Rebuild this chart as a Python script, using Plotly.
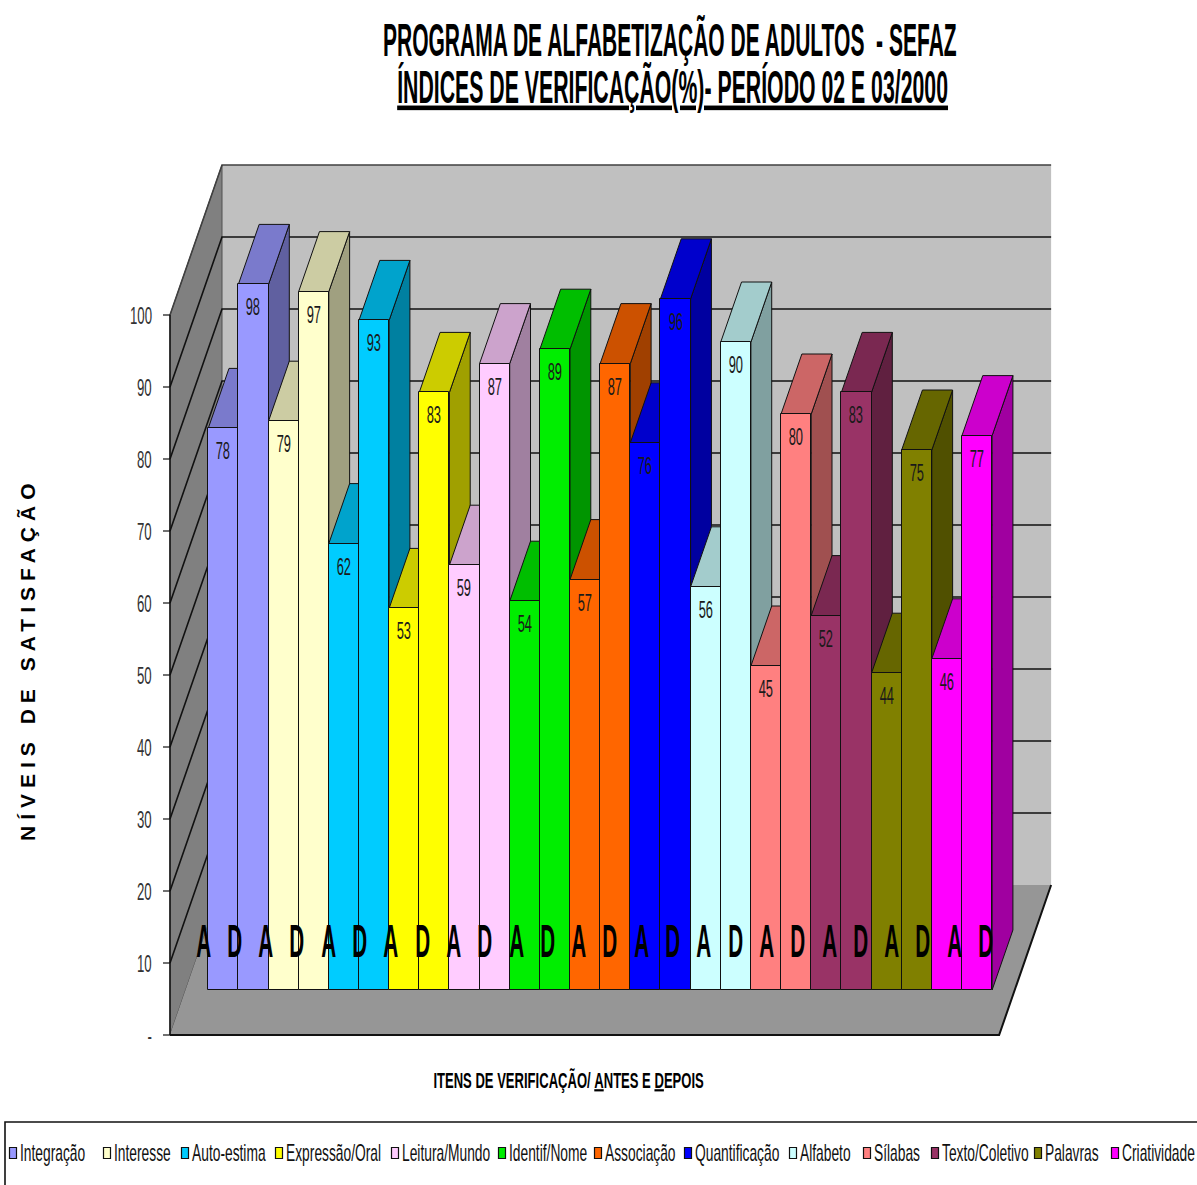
import json
import plotly.graph_objects as go

# ---------------------------------------------------------------- data
categorias = ["Integração", "Interesse", "Auto-estima", "Expressão/Oral",
              "Leitura/Mundo", "Identif/Nome", "Associação", "Quantificação",
              "Alfabeto", "Sílabas", "Texto/Coletivo", "Palavras", "Criatividade"]
antes = [78, 79, 62, 53, 59, 54, 57, 76, 56, 45, 52, 44, 46]
depois = [98, 97, 93, 83, 87, 89, 87, 96, 90, 80, 83, 75, 77]
cores = ["#9999FF", "#FFFFCC", "#00CCFF", "#FFFF00", "#FFCCFF", "#00EE00",
         "#FF6600", "#0000FF", "#CCFFFF", "#FF8080", "#993366", "#808000",
         "#FF00FF"]
marcas = ["A", "D"]
ticks_y = [0, 10, 20, 30, 40, 50, 60, 70, 80, 90, 100]
tick_text = ["-", "10", "20", "30", "40", "50", "60", "70", "80", "90", "100"]

titulo1 = "PROGRAMA DE ALFABETIZAÇÃO DE ADULTOS  - SEFAZ"
titulo2 = "ÍNDICES DE VERIFICAÇÃO(%)- PERÍODO 02 E 03/2000"
titulo_y = "NÍVEIS DE SATISFAÇÃO"
titulo_x = "ITENS DE VERIFICAÇÃO/ <u>A</u>NTES E <u>D</u>EPOIS"

# ---------------------------------------------------------------- geometry
W, H = 1197, 1185
FONT = "Liberation Sans, Arial, Helvetica, sans-serif"
SLOT_PX = 30.15          # pixels per column slot
PCT_PX = 7.2             # pixels per percentage point
ORIG_PX = (170, 1035)    # front-left corner of the floor
DEPTH_PX = (52, 150)     # oblique offset of the full depth
DX = DEPTH_PX[0] / SLOT_PX
DY = DEPTH_PX[1] / PCT_PX
N_BARS = 2 * len(categorias)
PAD = 0.75
U_MAX = N_BARS + 2 * PAD
D0, D1 = 0.3, 0.7        # depth occupied by the columns
V_MAX = 100


def P(u, v, d):
    """oblique projection of (slot, value, depth) into axis units"""
    return (u + d * DX, v + d * DY)


def path(points):
    return "M " + " L ".join(f"{x:.4f},{y:.4f}" for x, y in points) + " Z"


def line_path(points):
    return "M " + " L ".join(f"{x:.4f},{y:.4f}" for x, y in points)


def shade(hex_color, f):
    h = hex_color.lstrip("#")
    r, g, b = (int(h[i:i + 2], 16) for i in (0, 2, 4))
    return "#{:02X}{:02X}{:02X}".format(int(r * f), int(g * f), int(b * f))


def px2paper(x, y):
    return x / W, 1 - y / H


shapes = []

# walls and floor
shapes.append(dict(type="path", layer="below", xref="x", yref="y",
                   path=path([P(0, 0, 1), P(U_MAX, 0, 1), P(U_MAX, V_MAX, 1), P(0, V_MAX, 1)]),
                   fillcolor="#C0C0C0", line=dict(width=0)))
shapes.append(dict(type="path", layer="below", xref="x", yref="y",
                   path=path([P(0, 0, 0), P(0, 0, 1), P(0, V_MAX, 1), P(0, V_MAX, 0)]),
                   fillcolor="#808080", line=dict(color="#505050", width=1)))
shapes.append(dict(type="path", layer="below", xref="x", yref="y",
                   path=path([P(0, 0, 0), P(U_MAX, 0, 0), P(U_MAX, 0, 1), P(0, 0, 1)]),
                   fillcolor="#969696", line=dict(width=0)))

# gridlines on the side and back walls
for v in ticks_y[1:]:
    col = "#111111" if v < V_MAX else "#404040"
    shapes.append(dict(type="path", layer="below", xref="x", yref="y",
                       path=line_path([P(0, v, 0), P(0, v, 1), P(U_MAX, v, 1)]),
                       line=dict(color=col, width=1.6)))

# floor edges, value axis and its ticks
shapes.append(dict(type="path", layer="below", xref="x", yref="y",
                   path=line_path([P(0, 0, 0), P(U_MAX, 0, 0), P(U_MAX, 0, 1)]),
                   line=dict(color="#111111", width=2)))
shapes.append(dict(type="path", layer="below", xref="x", yref="y",
                   path=line_path([P(0, 0, 0), P(0, V_MAX, 0)]),
                   line=dict(color="#111111", width=1.5)))
TICK_LEN = 7 / SLOT_PX
for v in ticks_y:
    shapes.append(dict(type="path", layer="below", xref="x", yref="y",
                       path=line_path([P(-TICK_LEN, v, 0), P(0, v, 0)]),
                       line=dict(color="#111111", width=1.2)))

# sides and tops of the columns, painted left to right
for k in range(N_BARS):
    i, j = divmod(k, 2)
    v = (antes, depois)[j][i]
    u0 = PAD + k
    u1 = u0 + 1
    cor = cores[i]
    shapes.append(dict(type="path", layer="below", xref="x", yref="y",
                       path=path([P(u1, 0, D0), P(u1, 0, D1), P(u1, v, D1), P(u1, v, D0)]),
                       fillcolor=shade(cor, 0.63), line=dict(color="#111111", width=1)))
    shapes.append(dict(type="path", layer="below", xref="x", yref="y",
                       path=path([P(u0, v, D0), P(u1, v, D0), P(u1, v, D1), P(u0, v, D1)]),
                       fillcolor=shade(cor, 0.8), line=dict(color="#111111", width=1)))

# front faces of the columns
fig = go.Figure()
for i, nome in enumerate(categorias):
    xs = [P(PAD + 2 * i + j + 0.5, 0, D0)[0] for j in range(2)]
    fig.add_trace(go.Bar(
        x=xs, y=[antes[i], depois[i]], base=D0 * DY, width=1,
        name=nome, marker=dict(color=cores[i], line=dict(color="#111111", width=1)),
        customdata=marcas, showlegend=False,
        hovertemplate=nome + " %{customdata}: %{y}%<extra></extra>"))

annotations = []
specs = []   # horizontal scale per annotation: [factor or -target_width, anchor]


def add_ann(spec, **kw):
    kw.setdefault("showarrow", False)
    annotations.append(kw)
    specs.append(spec)


# value labels
LABEL_DROP = 23 / PCT_PX
for k in range(N_BARS):
    i, j = divmod(k, 2)
    v = (antes, depois)[j][i]
    x, y = P(PAD + k + 0.5, v - LABEL_DROP, D0)
    add_ann([0.56, "c"], x=x, y=y, xref="x", yref="y", text=str(v),
            xanchor="center", yanchor="middle",
            font=dict(family=FONT, size=23, color="#1A1A1A"))

# value axis labels
for v, t in zip(ticks_y, tick_text):
    x, y = P(-16 / SLOT_PX, v, 0)
    add_ann([0.55, "r"], x=x, y=y, xref="x", yref="y", text=t,
            xanchor="right", yanchor="middle",
            font=dict(family=FONT, size=24, color="#333333"))

# A / D letters along the front of the columns
AD_X0, AD_STEP, AD_Y = 203, 31.3, 941
for k in range(N_BARS):
    x, y = px2paper(AD_X0 + AD_STEP * k, AD_Y)
    add_ann([0.45, "c"], x=x, y=y, xref="paper", yref="paper", text=marcas[k % 2],
            xanchor="center", yanchor="middle",
            font=dict(family=FONT, size=46, color="#000000", weight="bold"))

# titles
x, y = px2paper(670, 40)
add_ann([-574, "c"], x=x, y=y, xref="paper", yref="paper", text=titulo1,
        xanchor="center", yanchor="middle",
        font=dict(family=FONT, size=46, color="#000000", weight="bold"))
x, y = px2paper(672, 87)
add_ann([-551, "c"], x=x, y=y, xref="paper", yref="paper", text="<u>" + titulo2 + "</u>",
        xanchor="center", yanchor="middle",
        font=dict(family=FONT, size=46, color="#000000", weight="bold"))
x, y = px2paper(27, 660)
add_ann(None, x=x, y=y, xref="paper", yref="paper", textangle=-90,
        text='<span style="letter-spacing:6px">' + titulo_y + "</span>",
        xanchor="center", yanchor="middle",
        font=dict(family=FONT, size=21, color="#000000", weight="bold"))
x, y = px2paper(568, 1080)
add_ann([-270, "c"], x=x, y=y, xref="paper", yref="paper", text=titulo_x,
        xanchor="center", yanchor="middle",
        font=dict(family=FONT, size=22, color="#000000", weight="bold"))

# legend
LEG_X = [13, 107, 185, 279, 395, 502, 598, 688, 793, 867, 935, 1038, 1115]
LEG_Y = 1153
x0, y1 = px2paper(5, 1122)
x1, y0 = px2paper(1202, 1192)
shapes.append(dict(type="rect", xref="paper", yref="paper", x0=x0, x1=x1, y0=y0, y1=y1,
                   line=dict(color="#111111", width=1.6), fillcolor="rgba(0,0,0,0)"))
for nome, cor, cx in zip(categorias, cores, LEG_X):
    a0, b1 = px2paper(cx - 3.5, LEG_Y - 5.5)
    a1, b0 = px2paper(cx + 3.5, LEG_Y + 5.5)
    shapes.append(dict(type="rect", xref="paper", yref="paper", x0=a0, x1=a1, y0=b0, y1=b1,
                       fillcolor=cor, line=dict(color="#111111", width=1.2)))
    x, y = px2paper(cx + 5, LEG_Y)
    add_ann([0.6, "l"], x=x, y=y, xref="paper", yref="paper", text=nome,
            xanchor="left", yanchor="middle",
            font=dict(family=FONT, size=23, color="#111111"))

fig.update_layout(
    width=W, height=H, autosize=False,
    margin=dict(l=0, r=0, t=0, b=0, pad=0),
    paper_bgcolor="white", plot_bgcolor="white",
    barmode="overlay", bargap=0,
    xaxis=dict(range=[-ORIG_PX[0] / SLOT_PX, (W - ORIG_PX[0]) / SLOT_PX],
               visible=False, fixedrange=True),
    yaxis=dict(range=[-(H - ORIG_PX[1]) / PCT_PX, ORIG_PX[1] / PCT_PX],
               visible=False, fixedrange=True),
    shapes=shapes,
    annotations=annotations,
)

# narrow the lettering horizontally (condensed face) once the plot is drawn
post_script = """
document.body.style.margin = '0';
var gd = document.getElementById('{plot_id}');
var specs = %s;
gd.querySelectorAll('g.annotation').forEach(function (g) {
  var s = specs[+g.getAttribute('data-index')];
  if (!s) return;
  var t = g.querySelector('text.annotation-text');
  var b = t.getBBox();
  if (!b.width) return;
  var sx = s[0] > 0 ? s[0] : -s[0] / b.width;
  var ax = s[1] === 'l' ? b.x : (s[1] === 'r' ? b.x + b.width : b.x + b.width / 2);
  t.setAttribute('transform', 'translate(' + ax + ',0) scale(' + sx + ',1) translate(' + (-ax) + ',0)');
});
""" % json.dumps(specs)

fig.write_html("out.html", post_script=post_script)
